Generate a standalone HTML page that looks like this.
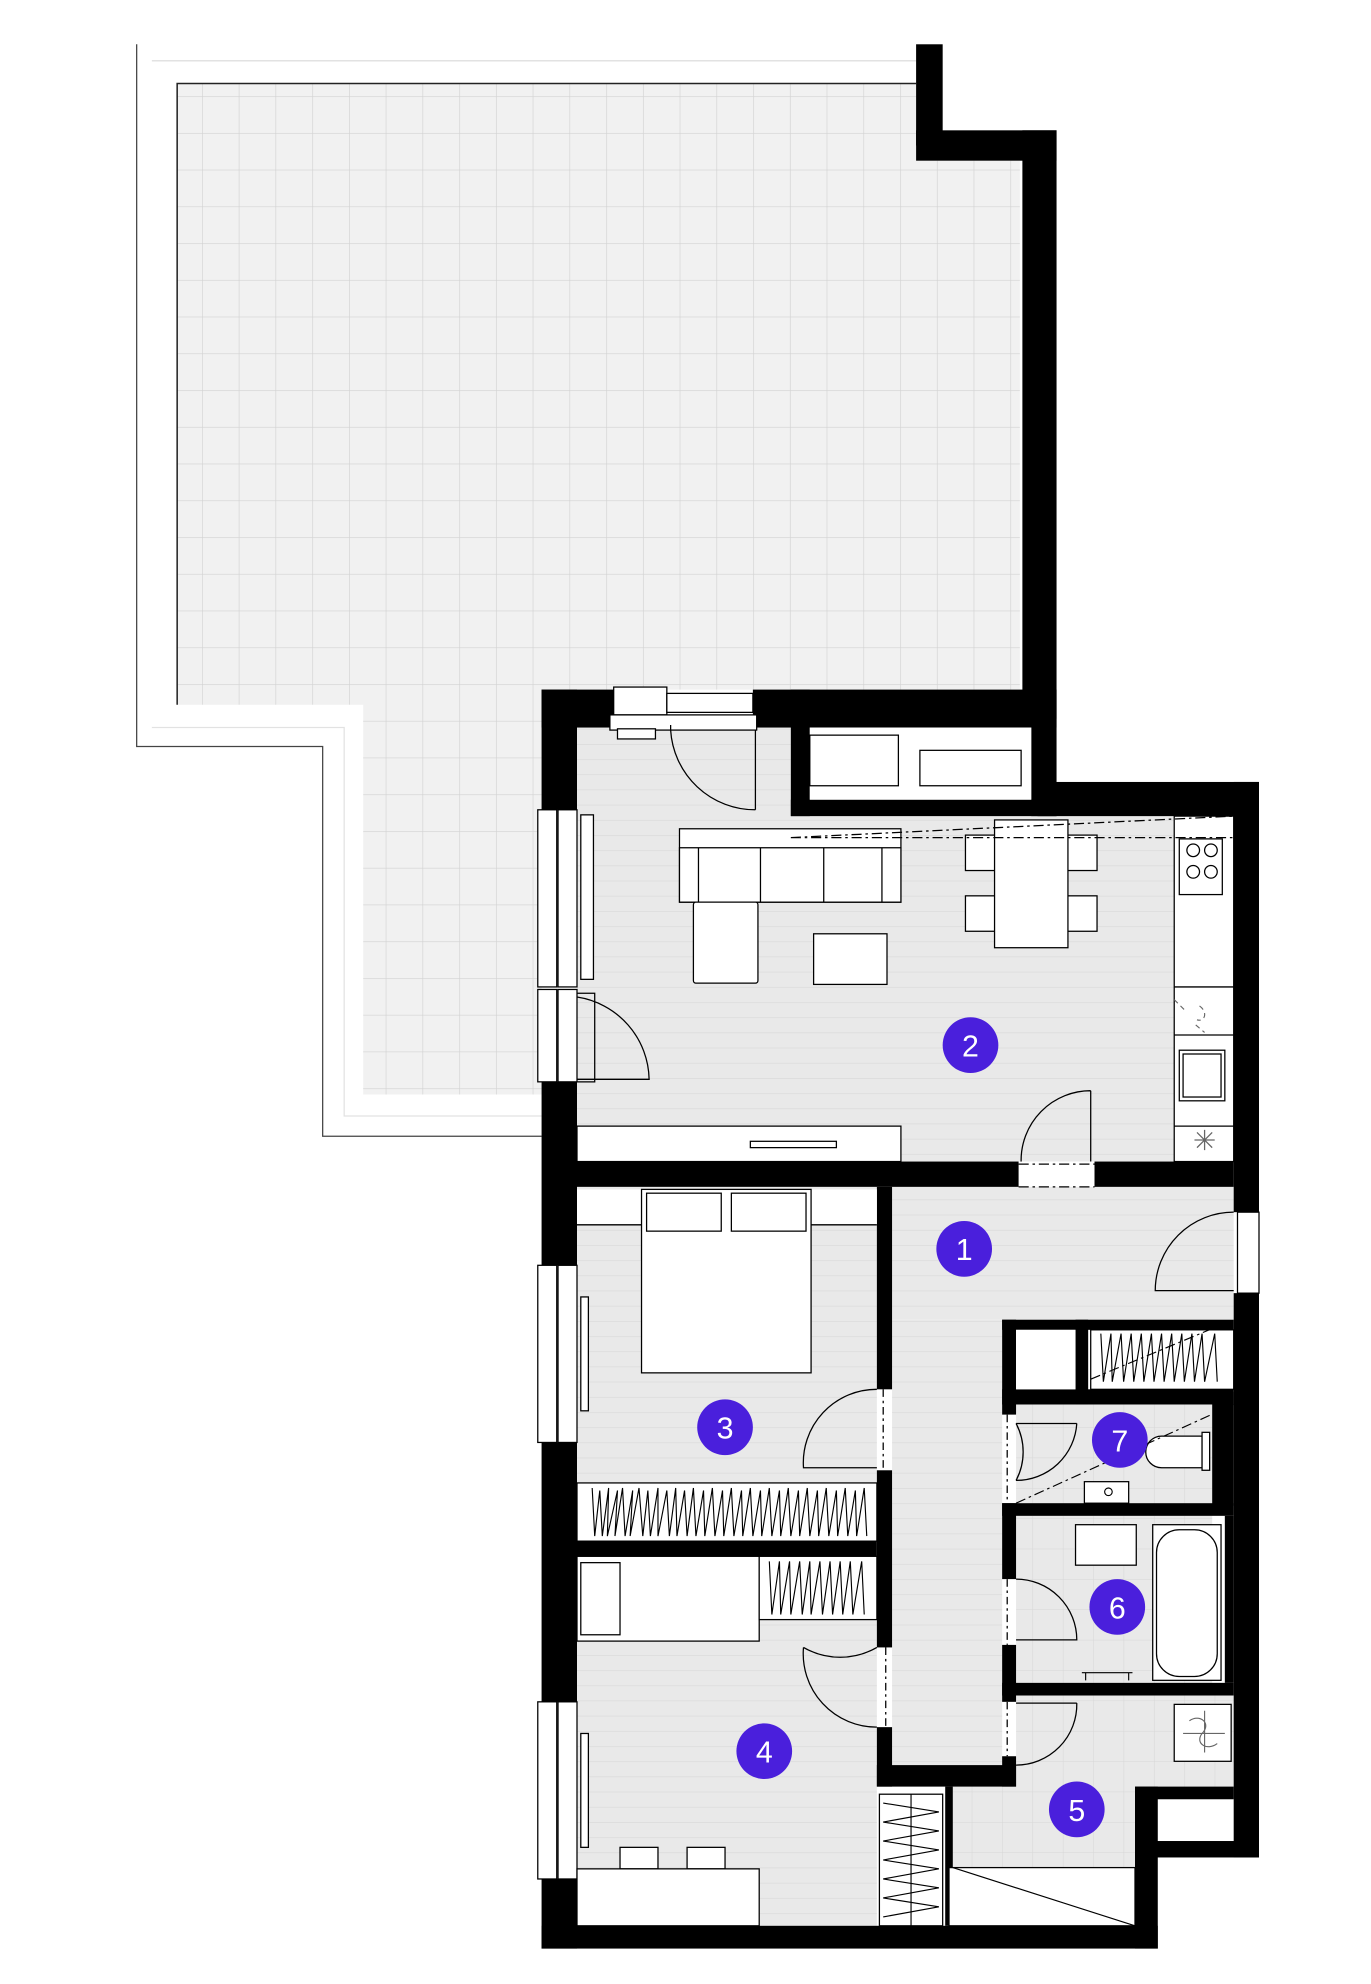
<!DOCTYPE html>
<html><head><meta charset="utf-8"><style>
html,body{margin:0;padding:0;background:#fff}
svg{display:block}
text{font-family:"Liberation Sans",sans-serif}
</style></head><body>
<svg width="1371" height="1984" viewBox="0 0 1083.5 1568" xmlns="http://www.w3.org/2000/svg">
<defs>
<pattern id="grid" x="130.6" y="47" width="29.04" height="29.04" patternUnits="userSpaceOnUse">
<rect width="29.04" height="29.04" fill="#f1f1f1"/>
<path d="M0 0H29.04M0 0V29.04" stroke="#d2d2d2" stroke-width="1"/>
</pattern>
<pattern id="lines" x="0" y="0" width="10" height="12" patternUnits="userSpaceOnUse">
<rect width="10" height="12" fill="#e9e9e9"/>
<path d="M0 0H10" stroke="#d9d9d9" stroke-width="1"/>
</pattern>
<pattern id="tiles" x="0" y="0" width="24" height="24" patternUnits="userSpaceOnUse">
<rect width="24" height="24" fill="#e9e9e9"/>
<path d="M0 0H24M0 0V24" stroke="#d7d7d7" stroke-width="0.8"/>
</pattern>
</defs>
<!-- terrace -->
<polygon points="140,66 724,66 724,127 806,127 806,545 428,545 428,865 287,865 287,557 140,557" fill="url(#grid)"/>
<path d="M140,557 V66 H724" fill="none" stroke="#222" stroke-width="1.2"/>
<path d="M108,35 V590 H255 V898 H428" fill="none" stroke="#444" stroke-width="1"/>
<path d="M120,48 H724" stroke="#e2e2e2" stroke-width="1.2"/>
<path d="M120,575 H272 V882 H428" fill="none" stroke="#e2e2e2" stroke-width="1"/>
<!-- floors -->
<polygon points="456,575 625,575 625,645 928,645 928,918 456,918" fill="url(#lines)"/>
<rect x="456" y="938" width="237" height="280" fill="url(#lines)"/>
<rect x="456" y="1230" width="237" height="292" fill="url(#lines)"/>
<rect x="705" y="938" width="270" height="105" fill="url(#lines)"/>
<rect x="705" y="1043" width="87" height="352" fill="url(#lines)"/>
<rect x="803" y="1110" width="155" height="78" fill="url(#tiles)"/>
<rect x="803" y="1198" width="155" height="132" fill="url(#tiles)"/>
<rect x="803" y="1340" width="172" height="80" fill="url(#tiles)"/>
<rect x="750" y="1412" width="150" height="64" fill="url(#tiles)"/>
<!-- walls -->
<g fill="#000">
<rect x="724" y="35" width="21" height="80"/>
<rect x="724" y="103" width="111" height="24"/>
<rect x="808" y="103" width="27" height="465"/>
<rect x="428" y="545" width="57" height="30"/>
<rect x="595" y="545" width="240" height="30"/>
<rect x="625" y="545" width="15" height="100"/>
<rect x="815" y="545" width="20" height="100"/>
<rect x="625" y="632" width="210" height="13"/>
<rect x="820" y="618" width="175" height="27"/>
<rect x="975" y="618" width="20" height="340"/>
<rect x="975" y="1022" width="20" height="446"/>
<rect x="428" y="545" width="28" height="95"/>
<rect x="428" y="855" width="28" height="145"/>
<rect x="428" y="1140" width="28" height="205"/>
<rect x="428" y="1485" width="28" height="55"/>
<rect x="428" y="1522" width="487" height="18"/>
<rect x="897" y="1412" width="18" height="128"/>
<rect x="897" y="1455" width="98" height="13"/>
<rect x="897" y="1412" width="8" height="50"/>
<rect x="905" y="1412" width="70" height="10"/>
<rect x="456" y="918" width="349" height="20"/>
<rect x="865" y="918" width="110" height="20"/>
<rect x="693" y="938" width="12" height="160"/>
<rect x="693" y="1162" width="12" height="140"/>
<rect x="693" y="1365" width="12" height="47"/>
<rect x="456" y="1218" width="237" height="12"/>
<rect x="693" y="1395" width="110" height="17"/>
<rect x="747" y="1412" width="6" height="110"/>
<rect x="792" y="1043" width="11" height="75"/>
<rect x="792" y="1188" width="11" height="60"/>
<rect x="792" y="1300" width="11" height="45"/>
<rect x="792" y="1388" width="11" height="24"/>
<rect x="792" y="1043" width="183" height="8"/>
<rect x="850" y="1043" width="10" height="67"/>
<rect x="792" y="1098" width="183" height="12"/>
<rect x="958" y="1100" width="17" height="90"/>
<rect x="792" y="1188" width="183" height="10"/>
<rect x="792" y="1330" width="183" height="10"/>
<rect x="968" y="1198" width="7" height="132"/>
</g>
<!-- windows on left wall -->
<g fill="#fff" stroke="#000" stroke-width="1">
<rect x="425" y="640" width="15" height="140"/><rect x="441" y="640" width="15" height="140"/>
<rect x="425" y="782" width="15" height="73"/><rect x="441" y="782" width="15" height="73"/>
<rect x="425" y="1000" width="15" height="140"/><rect x="441" y="1000" width="15" height="140"/>
<rect x="425" y="1345" width="15" height="140"/><rect x="441" y="1345" width="15" height="140"/>
<rect x="459" y="644" width="10" height="130"/>
<rect x="459" y="1025" width="6" height="90"/>
<rect x="459" y="1370" width="6" height="90"/>
<rect x="485" y="543" width="42" height="22"/><rect x="527" y="548" width="68" height="15"/>
<rect x="482" y="565" width="116" height="12"/>
<rect x="488" y="576" width="30" height="8"/>
<rect x="978" y="958" width="17" height="64"/>
</g>
<!-- closet -->
<g fill="#fff" stroke="#000" stroke-width="1">
<rect x="640" y="575" width="175" height="57" stroke="none"/>
<rect x="640" y="581" width="70" height="40"/>
<rect x="727" y="593" width="80" height="28"/>
</g>
<!-- living furniture -->
<g fill="#fff" stroke="#000" stroke-width="1">
<rect x="537" y="655" width="175" height="58"/>
<rect x="537" y="670" width="175" height="43"/>
<path d="M552 670V713M601 670V713M651 670V713M697 670V713"/>
<rect x="548" y="713" width="51" height="64" rx="2"/>
<rect x="643" y="738" width="58" height="40"/>
<rect x="763" y="660" width="104" height="28"/>
<rect x="763" y="708" width="104" height="28"/>
<rect x="786" y="648" width="58" height="101"/>
<rect x="928" y="645" width="47" height="273"/>
<rect x="932" y="663" width="34" height="44"/>
<rect x="932" y="830" width="36" height="40"/>
<rect x="935" y="833" width="30" height="34"/>
<path d="M928 780H975M928 818H975M928 890H975" />
<rect x="456" y="890" width="256" height="28"/>
<rect x="593" y="902" width="68" height="5"/>
</g>
<g fill="none" stroke="#000" stroke-width="1">
<circle cx="943" cy="672" r="5"/><circle cx="957" cy="672" r="5"/><circle cx="943" cy="689" r="5"/><circle cx="957" cy="689" r="5"/>
<path d="M625 662L975 645M625 662H975" stroke-dasharray="8,3,2,3"/>
<path d="M946 895L958 907M958 895L946 907M952 893V909M944 901H960" stroke="#666"/>
</g>
<!-- doors -->
<g fill="none" stroke="#000" stroke-width="1">
<path d="M530 573V577M530 577A67 67 0 0 0 597 640M597 577V640"/>
<path d="M456 785H470V855H456"/>
<path d="M456 788A67 67 0 0 1 513 853H456"/>
<path d="M862 862V918M862 862A55 55 0 0 0 807 918"/>
<path d="M805 920H865M805 938H865" stroke-dasharray="8,3,2,3"/>
<path d="M975 958A62 62 0 0 0 913 1020H975"/>
<path d="M693 1098A58 58 0 0 0 635 1160H693"/>
<path d="M693 1302A58 58 0 0 1 635 1302M635 1302A58 58 0 0 0 693 1365"/>
<path d="M803 1125H851M803 1125A48 48 0 0 1 803 1170M851 1125A48 48 0 0 1 803 1170"/>
<path d="M803 1248A48 48 0 0 1 851 1296H803"/>
<path d="M851 1346H803M851 1346A48 48 0 0 1 803 1395"/>
<path d="M698 1098V1162M700 1302V1365M796 1118V1188M796 1248V1300M796 1345V1388" stroke-dasharray="6,3,2,3"/>
</g>
<!-- bedrooms etc -->
<g fill="#fff" stroke="#000" stroke-width="1">
<rect x="456" y="940" width="237" height="28" stroke="none"/>
<path d="M456 968H507M641 968H693"/>
<rect x="507" y="940" width="134" height="145"/>
<rect x="511" y="943" width="59" height="30"/>
<rect x="578" y="943" width="59" height="30"/>
<rect x="456" y="1172" width="237" height="46"/>
<rect x="456" y="1230" width="144" height="67"/>
<rect x="459" y="1235" width="31" height="57"/>
<rect x="600" y="1230" width="93" height="50"/>
<rect x="490" y="1460" width="30" height="17"/>
<rect x="543" y="1460" width="30" height="17"/>
<rect x="456" y="1477" width="144" height="45"/>
<rect x="695" y="1418" width="50" height="104"/>
<rect x="862" y="1051" width="113" height="47"/>
<rect x="803" y="1051" width="47" height="47" stroke="none"/>
<rect x="857" y="1171" width="35" height="17"/>
<path d="M918 1135H950V1160H918A8 8 0 0 1 918 1135Z"/>
<rect x="950" y="1132" width="6" height="30"/>
<rect x="850" y="1205" width="48" height="32"/>
<rect x="911" y="1205" width="54" height="123"/>
<rect x="914" y="1209" width="48" height="116" rx="18"/>
<rect x="928" y="1347" width="45" height="45"/>
<rect x="750" y="1476" width="147" height="46"/>
</g>
<g fill="none" stroke="#000" stroke-width="0.9">
<path d="M468 1176L470 1214L474 1178L476 1214L481 1176L480 1214L488 1178L486 1214L492 1176L494 1214L500 1178L498 1214L505 1176L508 1214L512 1178L514 1214L520 1176L520 1214L527 1178L529 1214L534 1176L535 1214L541 1178L543 1214L548 1176L550 1214L556 1178L557 1214L563 1176L565 1214L571 1178L572 1214L578 1176L580 1214L586 1178L587 1214L593 1176L595 1214L601 1178L602 1214L608 1176L610 1214L616 1178L617 1214L623 1176L625 1214L631 1178L632 1214L638 1176L640 1214L646 1178L647 1214L653 1176L655 1214L661 1178L662 1214L668 1176L670 1214L676 1178L677 1214L683 1176L685 1214"/>
<path d="M608 1234L610 1276L616 1234L617 1276L624 1234L625 1276L632 1234L634 1276L640 1234L641 1276L648 1234L650 1276L656 1234L658 1276L664 1234L666 1276L672 1234L674 1276L681 1234L683 1276"/>
<path d="M870 1054L872 1092L878 1054L879 1092L886 1054L888 1092L894 1054L896 1092L902 1054L904 1092L910 1054L912 1092L918 1054L920 1092L926 1054L928 1092L934 1054L936 1092L942 1054L944 1092L950 1054L952 1092L960 1054L962 1092"/>
<path d="M698 1425L742 1432L698 1440L742 1447L698 1455L742 1462L698 1470L742 1477L698 1485L742 1492L698 1500L742 1507L698 1515"/>
<path d="M720 1418V1522"/>
<path d="M753 1476L897 1522"/>
<path d="M862 1090L975 1043M803 1188L975 1110" stroke-dasharray="8,3,2,3"/>
<circle cx="876" cy="1179" r="3"/>
<path d="M940 1360C948 1354 958 1362 950 1370C944 1378 954 1384 962 1378M952 1352V1385M935 1370H968" stroke="#666"/>
<path d="M928 790L936 798M945 810L952 816M948 795C955 800 952 808 946 806" stroke="#666" stroke-dasharray="4,3"/>
<path d="M855 1322H895M858 1322V1328M892 1322V1328"/>
</g>
<!-- labels -->
<g fill="#4a1fdc">
<circle cx="762" cy="987" r="22"/><circle cx="767" cy="826" r="22"/>
<circle cx="573" cy="1128" r="22"/><circle cx="604" cy="1384" r="22"/>
<circle cx="851" cy="1430" r="22"/><circle cx="883" cy="1270" r="22"/>
<circle cx="885" cy="1138" r="22"/>
</g>
<g fill="#fff" font-size="24" text-anchor="middle">
<text x="762" y="996">1</text><text x="767" y="835">2</text>
<text x="573" y="1137">3</text><text x="604" y="1393">4</text>
<text x="851" y="1439">5</text><text x="883" y="1279">6</text>
<text x="885" y="1147">7</text>
</g>
</svg>
</body></html>
